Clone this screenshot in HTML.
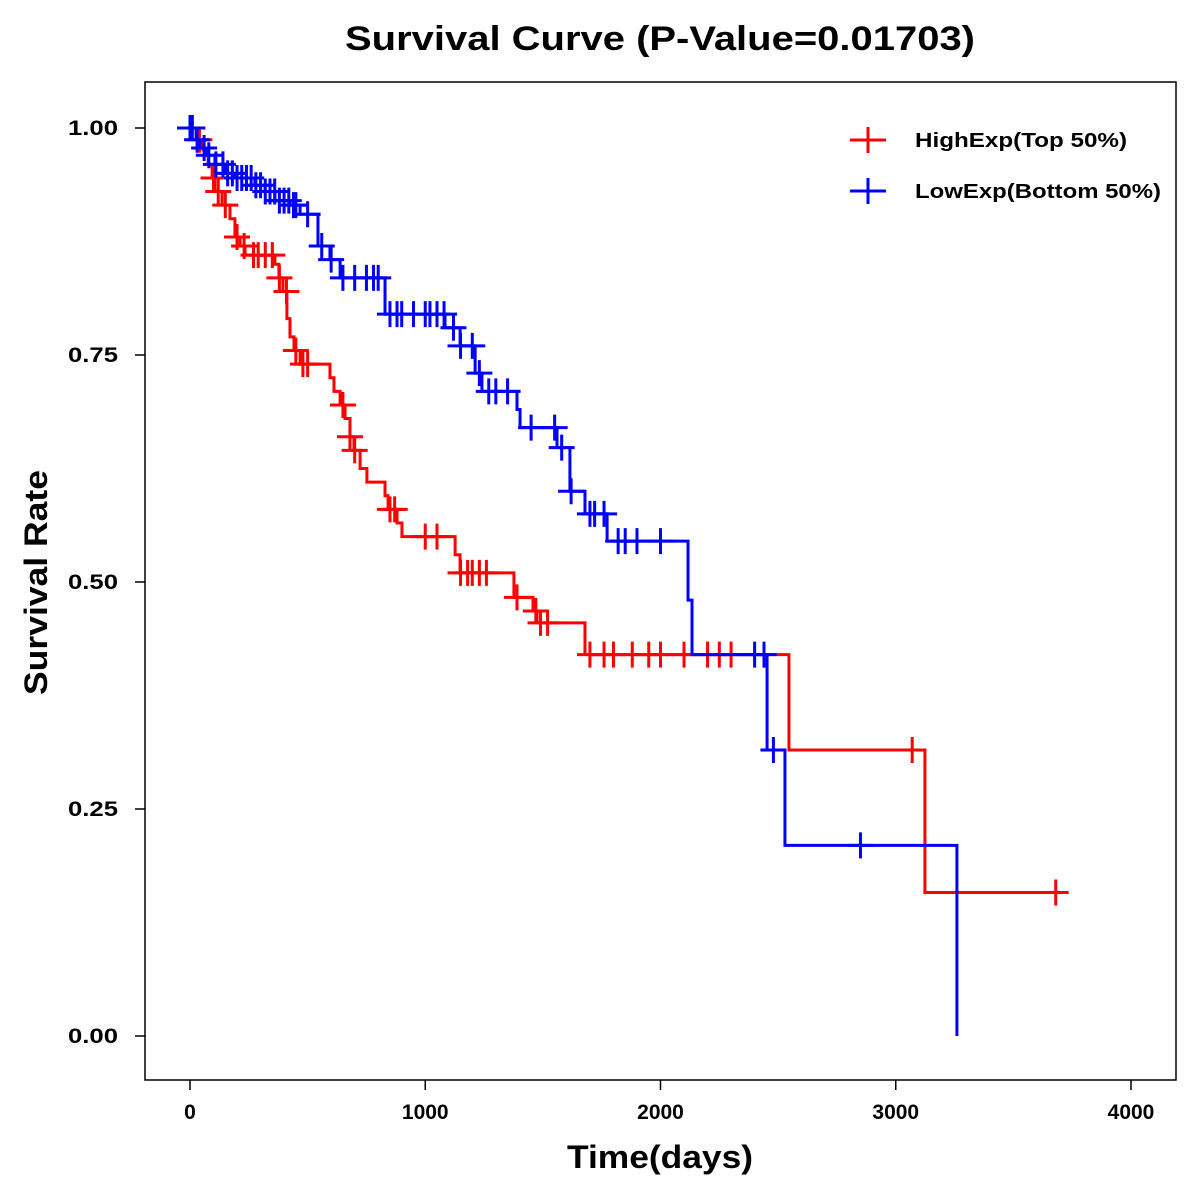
<!DOCTYPE html>
<html><head><meta charset="utf-8"><style>
body{margin:0;background:#fff}
svg{display:block;font-family:"Liberation Sans",Arial,sans-serif;font-weight:bold}
</style></head><body>
<svg id="chart" width="1200" height="1200">
<text x="345" y="50" font-size="34" textLength="630" lengthAdjust="spacingAndGlyphs">Survival Curve (P-Value=0.01703)</text>
<rect x="145" y="82" width="1031" height="998" fill="none" stroke="#000" stroke-width="1.5"/>
<g id="axes"></g>
<g id="series"></g>
<text x="567" y="1168" font-size="32" textLength="186" lengthAdjust="spacingAndGlyphs">Time(days)</text>
<text transform="translate(47,695) rotate(-90)" font-size="32" textLength="225" lengthAdjust="spacingAndGlyphs">Survival Rate</text>
<g>
<g>
<line x1="850" y1="140" x2="886" y2="140" stroke="#f00" stroke-width="3"/><line x1="868" y1="127" x2="868" y2="153" stroke="#f00" stroke-width="3"/>
<text x="915" y="147" font-size="20" textLength="212" lengthAdjust="spacingAndGlyphs">HighExp(Top 50%)</text></g>
<g>
<line x1="850" y1="191" x2="886" y2="191" stroke="#00f" stroke-width="3"/><line x1="868" y1="178" x2="868" y2="204" stroke="#00f" stroke-width="3"/>
<text x="915" y="198" font-size="20" textLength="246" lengthAdjust="spacingAndGlyphs">LowExp(Bottom 50%)</text></g>
</g>
</svg>
<script>
const xTicks=[0,1000,2000,3000,4000];
const yTicks=[0,0.25,0.5,0.75,1.0];
const yTickLabels=["0.00","0.25","0.50","0.75","1.00"];
const highTimes=[30,55,77,94,106,136,170,191,213,234,361,378,395,412,425,442,468,595,612,638,659,680,697,723,752,829,842,880,901,1127,1148,1377,1458,1475,1679,2546,3124];
const highSurv=[0.987,0.976,0.96,0.945,0.93,0.915,0.90,0.88,0.87,0.86,0.85,0.835,0.82,0.79,0.77,0.755,0.74,0.725,0.71,0.695,0.68,0.66,0.645,0.625,0.61,0.595,0.58,0.565,0.55,0.53,0.51,0.483,0.468,0.455,0.42,0.315,0.158];
const highEnd=3700;
const highCensor=[40,100,120,150,200,230,270,290,320,350,380,410,450,480,500,650,680,700,850,870,1000,1050,1150,1180,1200,1230,1260,1390,1470,1490,1520,1700,1760,1800,1880,1950,2000,2100,2200,2250,2300,3070,3680];
const lowTimes=[26,43,72,106,149,191,276,319,361,425,468,544,595,638,829,1084,1148,1212,1241,1390,1403,1560,1615,1679,1773,2117,2134,2453,2529,3260];
const lowSurv=[0.987,0.978,0.97,0.96,0.95,0.945,0.937,0.93,0.92,0.915,0.905,0.87,0.855,0.835,0.795,0.78,0.76,0.73,0.71,0.69,0.67,0.648,0.60,0.575,0.545,0.48,0.42,0.315,0.21,0.0];
const lowEnd=3260;
const lowCensor=[0,5,10,30,60,80,110,140,160,180,200,220,240,260,280,300,320,340,360,380,400,420,440,450,500,560,600,650,700,750,780,800,850,880,900,950,1000,1020,1050,1080,1120,1150,1200,1230,1270,1300,1350,1450,1550,1580,1620,1700,1720,1760,1820,1850,1900,2000,2400,2440,2480,2850];
const NS='http://www.w3.org/2000/svg';
const xS=t=>190+t*(941/4000);
const yS=s=>1036-s*908;
function mk(tag,attrs,parent){const e=document.createElementNS(NS,tag);for(const k in attrs)e.setAttribute(k,attrs[k]);parent.appendChild(e);return e;}
const axes=document.getElementById('axes');
xTicks.forEach(t=>{
  const g=mk('g',{},axes);
  
  
  mk('line',{x1:xS(t),x2:xS(t),y1:1080,y2:1090,stroke:'#000','stroke-width':1.5},g);
  const tx=mk('text',{x:xS(t),y:1119,'text-anchor':'middle','font-size':21},g);tx.textContent=t;
});
yTicks.forEach((s,i)=>{
  const g=mk('g',{},axes);
  
  
  mk('line',{x1:135,x2:145,y1:yS(s),y2:yS(s),stroke:'#000','stroke-width':1.5},g);
  const tx=mk('text',{x:68,y:yS(s)+7,'font-size':21,textLength:50,lengthAdjust:'spacingAndGlyphs'},g);tx.textContent=yTickLabels[i];
});
const series=document.getElementById('series');
function survAt(times,surv,t){let s=1;for(let i=0;i<times.length;i++){if(times[i]<=t)s=surv[i];}return s;}
function draw(times,surv,end,cens,color,name){
  const g=mk('g',{},series);
  
  
  let d='M'+xS(0)+','+yS(1);
  times.forEach((t,i)=>{d+=' H'+xS(t)+' V'+yS(surv[i]);});
  d+=' H'+xS(end);
  const p=mk('path',{d:d,fill:'none',stroke:color,'stroke-width':3},g);
  
  
  cens.forEach(t=>{
    const s=survAt(times,surv,t);const x=xS(t),y=yS(s);
    const c=mk('path',{d:`M${x-13},${y}H${x+13}M${x},${y-13}V${y+13}`,stroke:color,'stroke-width':3,fill:'none'},g);
    
    
  });
}
draw(highTimes,highSurv,highEnd,highCensor,'#f00','high-exp-curve');
draw(lowTimes,lowSurv,lowEnd,lowCensor,'#00f','low-exp-curve');
</script>
</body></html>
